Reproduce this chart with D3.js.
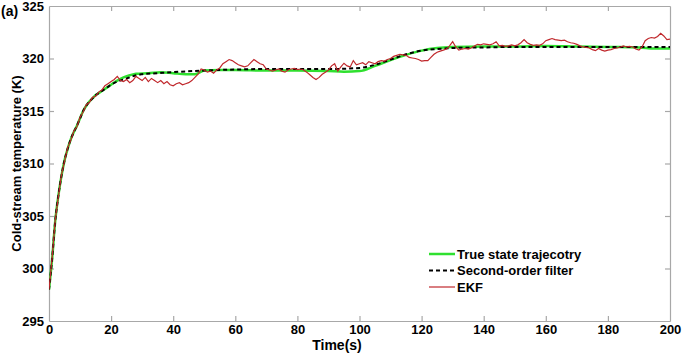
<!DOCTYPE html>
<html>
<head>
<meta charset="utf-8">
<script src="https://cdn.jsdelivr.net/npm/d3@7"></script>
<style>
  body { margin: 0; background: #fff; }
  svg text { font-family: "Liberation Sans", Arial, sans-serif; font-weight: bold; fill: #000; }
</style>
</head>
<body>
<div class="chart"></div>
<script>
// tick values
const xTicks = [0, 20, 40, 60, 80, 100, 120, 140, 160, 180, 200];
const yTicks = [295, 300, 305, 310, 315, 320, 325];

// true state trajectory (time, value)
const trueT = [0, 1, 2, 3, 4, 5, 6, 7, 8, 9, 10, 11, 12, 13, 14, 15, 16, 17, 18, 19, 20,
  22, 24, 26, 28, 32, 36, 40, 44, 47, 50, 55, 60, 70, 80, 90, 95, 100,
  105, 110, 115, 120, 125, 130, 140, 150, 160, 170, 180, 190, 195, 200];
const trueV = [298.0, 300.9, 304.5, 306.9, 308.8, 310.3, 311.4, 312.3, 313.0, 313.6, 314.3, 315.0, 315.5, 315.9, 316.2, 316.5, 316.7, 316.9, 317.1, 317.3, 317.5,
  317.9, 318.2, 318.4, 318.55, 318.6, 318.7, 318.6, 318.5, 318.5, 318.85, 318.9, 318.9, 318.85, 318.85, 318.8, 318.75, 318.8,
  319.3, 319.85, 320.35, 320.75, 321.0, 321.1, 321.15, 321.15, 321.2, 321.15, 321.1, 321.05, 320.95, 320.95];

// second-order filter
const sofT = [0, 1, 2, 3, 4, 5, 6, 7, 8, 9, 10, 11, 12, 13, 14, 15, 16, 17, 18, 19, 20,
  22, 24, 26, 28, 30, 35, 40, 50, 60, 70, 80, 90, 100,
  105, 110, 115, 120, 125, 130, 140, 150, 160, 180, 200];
const sofV = [298.0, 300.9, 304.5, 306.9, 308.8, 310.3, 311.4, 312.3, 313.0, 313.6, 314.3, 315.0, 315.5, 315.9, 316.2, 316.5, 316.7, 316.9, 317.1, 317.3, 317.5,
  317.8, 318.0, 318.2, 318.4, 318.5, 318.6, 318.7, 318.85, 318.95, 319.0, 319.0, 319.0, 319.1,
  319.4, 319.9, 320.4, 320.75, 320.9, 321.0, 321.05, 321.1, 321.1, 321.1, 321.1];

// EKF estimate, one value per second from t = 0 to 200
const ekfV = [
  298.0, 301.0, 304.6, 306.8, 308.9, 310.2, 311.5, 312.2, 313.1, 313.5,
  314.4, 314.9, 315.6, 315.8, 316.3, 316.4, 316.8, 317.0, 317.4, 317.6,
  317.8, 318.0, 318.3, 317.9, 317.8, 318.0, 317.7, 317.9, 318.3, 318.1,
  317.9, 318.2, 317.8, 318.1, 317.9, 317.7, 317.9, 317.6, 317.8, 317.5,
  317.4, 317.6, 317.7, 317.5, 317.6, 317.7, 317.9, 318.2, 318.5, 319.0,
  318.9, 318.7, 318.8, 318.6, 318.9, 319.1, 319.5, 319.7, 319.9, 319.8,
  319.6, 319.4, 319.3, 319.2, 319.3, 319.6, 319.9, 319.7, 319.5, 319.4,
  319.0, 318.9, 318.8, 318.9, 319.0, 318.8, 318.7, 318.9, 319.0, 319.05,
  318.95, 319.0, 318.9, 318.7, 318.45, 318.2, 318.0, 318.2, 318.5, 318.7,
  318.9, 319.3, 319.5, 318.8, 319.2, 319.55, 319.3, 319.2, 319.8, 319.4,
  319.5, 319.6, 319.4, 319.7, 319.6, 319.5, 319.7, 319.8, 319.75, 319.9,
  320.0, 320.2, 320.3, 320.4, 320.35, 320.3, 320.1, 320.05, 320.0, 319.9,
  319.75, 319.8, 319.8, 320.1, 320.4, 320.6, 320.7, 320.8, 320.9, 321.2,
  321.6, 321.1, 320.8, 320.9, 320.95, 320.9, 321.0, 321.2, 321.35, 321.3,
  321.4, 321.35, 321.3, 321.4, 321.6, 321.2, 321.25, 321.15, 321.2, 321.3,
  321.2, 321.3, 321.5, 321.8, 321.5, 321.35, 321.25, 321.3, 321.25, 321.4,
  321.7, 321.8, 321.9, 321.8, 321.75, 321.7, 321.75, 321.6, 321.5, 321.45,
  321.35, 321.2, 321.1, 321.05, 321.0, 320.85, 320.75, 320.95, 320.8, 320.7,
  320.8, 320.85, 320.95, 321.0, 321.1, 321.2, 321.1, 321.15, 321.1, 320.9,
  320.8, 321.1, 321.7, 321.9, 322.0, 321.95, 322.1, 322.4, 322.15, 321.8,
  321.85];

const seriesNames = ["True state trajecotry", "Second-order filter", "EKF"];

const W = 685, H = 353;
const margin = {top: 6, right: 15, bottom: 32, left: 49};
const width = W - margin.left - margin.right,
      height = H - margin.top - margin.bottom;

const svg = d3.select(".chart").append("svg")
    .attr("width", W)
    .attr("height", H);

const g = svg.append("g")
    .attr("transform", `translate(${margin.left},${margin.top})`);

const x = d3.scaleLinear().domain([0, 200]).range([0, width]);
const y = d3.scaleLinear().domain([295, 325]).range([height, 0]);

const axisColor = "#a8a8a8";

// axes with inward ticks
const bottomAxis = g.append("g")
    .attr("transform", `translate(0,${height})`)
    .call(d3.axisBottom(x).tickValues(xTicks).tickSizeInner(-5).tickSizeOuter(0).tickPadding(4));
const leftAxis = g.append("g")
    .call(d3.axisLeft(y).tickValues(yTicks).tickSizeInner(-5).tickSizeOuter(0).tickPadding(5));
const topAxis = g.append("g")
    .call(d3.axisTop(x).tickValues(xTicks).tickSizeInner(-5).tickSizeOuter(0).tickFormat(""));
const rightAxis = g.append("g")
    .attr("transform", `translate(${width},0)`)
    .call(d3.axisRight(y).tickValues(yTicks).tickSizeInner(-5).tickSizeOuter(0).tickFormat(""));

[bottomAxis, leftAxis, topAxis, rightAxis].forEach(a => {
  a.selectAll("path, line").attr("stroke", axisColor).attr("stroke-width", 1.2);
  a.selectAll("text").style("font-size", "13px").attr("fill", "#000");
});
// first and last ticks sit on the frame, hide those tick marks
bottomAxis.selectAll(".tick line").filter(d => d === 0 || d === 200).remove();
topAxis.selectAll(".tick line").filter(d => d === 0 || d === 200).remove();
leftAxis.selectAll(".tick line").filter(d => d === 295 || d === 325).remove();
rightAxis.selectAll(".tick line").filter(d => d === 295 || d === 325).remove();

svg.append("clipPath").attr("id", "clip")
  .append("rect").attr("width", width).attr("height", height);

const line = d3.line()
    .x(d => x(d[0]))
    .y(d => y(d[1]))
    .curve(d3.curveMonotoneX);

const trueData = trueT.map((t, i) => [t, trueV[i]]);
const sofData = sofT.map((t, i) => [t, sofV[i]]);
const ekfData = ekfV.map((v, i) => [i, v]);

const plot = g.append("g").attr("clip-path", "url(#clip)");

plot.append("path").datum(trueData)
    .attr("fill", "none").attr("stroke", "#2fe02f").attr("stroke-width", 2.5)
    .attr("d", line);
plot.append("path").datum(sofData)
    .attr("fill", "none").attr("stroke", "#000").attr("stroke-width", 2)
    .attr("stroke-dasharray", "4,3")
    .attr("d", line);
plot.append("path").datum(ekfData)
    .attr("fill", "none").attr("stroke", "#c0282c").attr("stroke-width", 1.2)
    .attr("d", d3.line().x(d => x(d[0])).y(d => y(d[1])));

// legend
const legend = svg.append("g").attr("transform", "translate(429,254)");
const legStyles = [
  {stroke: "#2fe02f", w: 2.5, dash: null},
  {stroke: "#000", w: 2, dash: "4,3"},
  {stroke: "#c0282c", w: 1.2, dash: null}
];
seriesNames.forEach((name, i) => {
  const row = legend.append("g").attr("transform", `translate(0,${i * 16.5})`);
  row.append("line")
    .attr("x1", 0).attr("x2", 26).attr("y1", 0).attr("y2", 0)
    .attr("stroke", legStyles[i].stroke)
    .attr("stroke-width", legStyles[i].w)
    .attr("stroke-dasharray", legStyles[i].dash);
  row.append("text")
    .attr("x", 28).attr("y", 4.5)
    .style("font-size", "13px")
    .text(name);
});

// titles
svg.append("text")
    .attr("transform", `translate(21,${margin.top + height / 2}) rotate(-90)`)
    .attr("text-anchor", "middle")
    .style("font-size", "13px")
    .text("Cold-stream temperature (K)");

svg.append("text")
    .attr("x", 337).attr("y", 350)
    .attr("text-anchor", "middle")
    .style("font-size", "14px")
    .text("Time(s)");

svg.append("text")
    .attr("x", 1).attr("y", 16)
    .style("font-size", "14px")
    .text("(a)");
</script>
</body>
</html>
